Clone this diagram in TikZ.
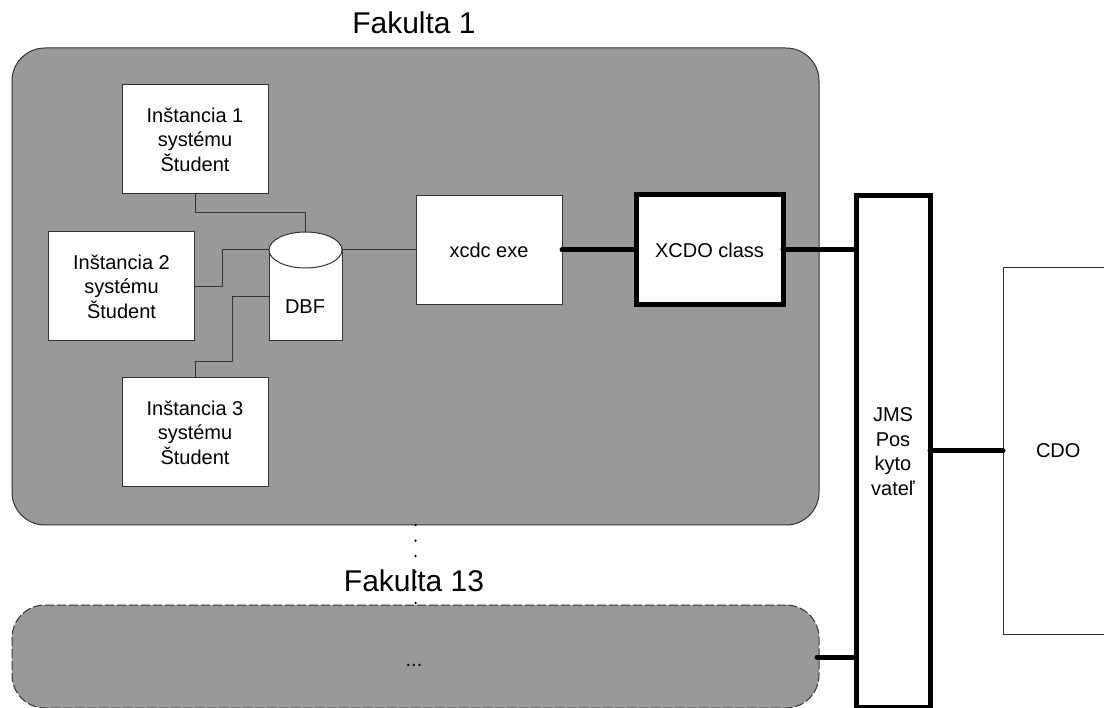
\documentclass[tikz,border=0pt]{standalone}
\usepackage{fontspec}
\setmainfont{Liberation Sans}
\usetikzlibrary{shapes.geometric, arrows, positioning}
\definecolor{fakgray}{HTML}{999999}
\tikzset{
    faculty/.style={draw=black!80, fill=fakgray, rounded corners=33pt, minimum width=807pt, line width=1pt, outer sep=0pt},
    sysbox/.style={draw=black!80, fill=white, line width=1pt, minimum width=146pt, minimum height=109pt, align=center, outer sep=0pt, font=\fontsize{20}{24.5}\selectfont},
    heavybox/.style={draw=black, fill=white, line width=5pt, align=center, outer sep=0pt, font=\fontsize{20}{24.5}\selectfont},
    title/.style={font=\fontsize{30}{32}\selectfont},
    thinline/.style={draw=black!80, line width=1pt},
    thickline/.style={draw=black, line width=5pt, line cap=round}
}
\begin{document}
\begin{tikzpicture}[x=1pt, y=-1pt]
    \useasboundingbox (0,0) rectangle (1104,708);
    \clip (0,0) rectangle (1104,708);
    % faculties
    \node[faculty, minimum height=477pt] (fak1) at (415.5,286.5) {};
    \node[faculty, dash pattern=on 9pt off 3pt, minimum height=103pt] (fak13) at (415.5,656.5) {};
    \node[title] (fak1label) at (414,23) {Fakulta 1};
    \draw[line width=2.5pt, line cap=round, dash pattern=on 0pt off 15.6pt] (fak1.south) -- (fak13.north);
    \node[title] (fak13label) at (414,581) {Fakulta 13};
    \node[font=\fontsize{20}{24}\selectfont] (fak13dots) at (414,665) {...};
    % systems
    \node[sysbox] (inst1) at (195,139.5) {Inštancia 1\\systému\\Študent};
    \node[sysbox] (inst2) at (121.5,286.5) {Inštancia 2\\systému\\Študent};
    \node[sysbox] (inst3) at (195,432.5) {Inštancia 3\\systému\\Študent};
    \node[sysbox] (xcdo) at (489,250) {xcdc exe};
    \node[heavybox, minimum width=147pt, minimum height=110pt] (xcdoclass) at (709.5,250) {XCDO class};
    \node[heavybox, minimum width=74pt, minimum height=512pt] (jms) at (893,451.5) {JMS\\Pos\\kyto\\vateľ};
    \node[sysbox, minimum width=200pt, minimum height=366pt, text width=180pt, align=left] (cdo) at (1103,451) {\hspace{23pt}CDO};
    % database
    \node[sysbox, minimum width=73pt, minimum height=91pt] (dbf) at (305.5,295.5) {};
    \node[ellipse, draw=black!80, fill=white, line width=1pt, minimum width=73pt, minimum height=36pt, inner sep=0pt, outer sep=0pt] (dbftop) at (305.5,250) {};
    \node[font=\fontsize{20}{24}\selectfont] (dbflabel) at (305,307) {DBF};
    % connectors
    \coordinate (dbflow) at (269,297);
    \coordinate (fak13east) at (817,657);
    \draw[thinline] (inst1.south) -- (195,213) -- (305.5,213) -- (dbftop.north);
    \draw[thinline] (inst2.east) -- (222,286.5) -- (222,250) -- (dbftop.west);
    \draw[thinline] (inst3.north) -- (195,362) -- (232,362) -- (232,297) -- (dbflow);
    \draw[thinline] (dbftop.east) -- (xcdo.west |- dbftop.east);
    \draw[thickline] (xcdo.east) -- (xcdoclass.west);
    \draw[thickline] (xcdoclass.east) -- (jms.west |- xcdoclass.east);
    \draw[thickline] (jms.east |- cdo.west) -- (cdo.west);
    \draw[thickline] (fak13east) -- (jms.west |- fak13east);
\end{tikzpicture}
\end{document}
